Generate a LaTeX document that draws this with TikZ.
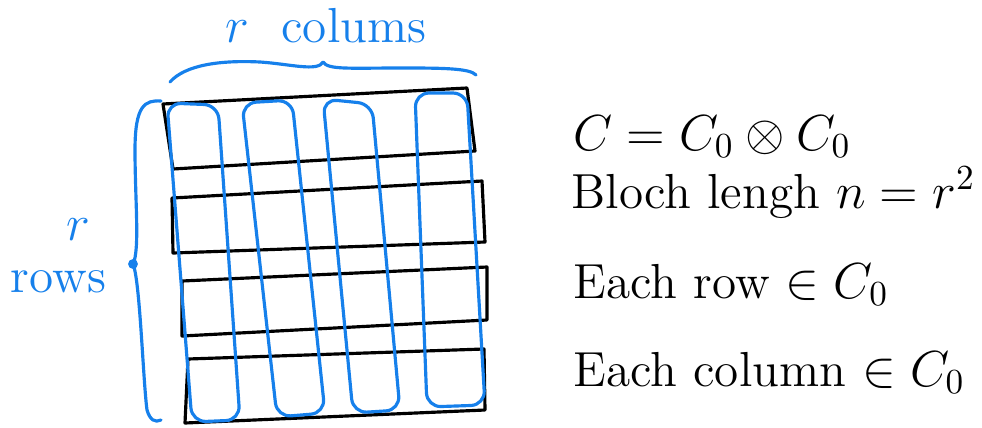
\documentclass[tikz,border=0pt]{standalone}
\usepackage{amsmath,amssymb}
\definecolor{penblue}{RGB}{22,128,235}

\begin{document}
\begin{tikzpicture}[x=0.01cm,y=-0.01cm,line join=round,line cap=round,
  rowbox/.style={draw=black,line width=0.9pt},
  colbox/.style={draw=penblue,line width=0.9pt,rounded corners=4pt},
  pen/.style={font=\fontsize{14}{17}\selectfont,inner sep=0pt,anchor=base west}]
  \useasboundingbox (0,0) rectangle (982,427);
  % rows of the grid
  \foreach \ax/\ay/\bx/\by/\cx/\cy/\dx/\dy in
    {163/104/467/88/475/151/173/169, 172/198/482/181/485/242/173/253,
     182/281/487/267/487/320/182/336, 188/359/484/349/485/410/185/423}
    \draw[rowbox] (\ax,\ay)--(\bx,\by)--(\cx,\cy)--(\dx,\dy)--cycle;
  % columns of the grid
  \foreach \ax/\ay/\bx/\by/\cx/\cy/\dx/\dy in
    {167/103/218/105/240/420/192/422, 242/103/292/100/325/413/277/417,
     323/99/372/104/400/410/353/413, 415/93/467/93/485/405/427/407}
    \draw[colbox] (\ax,\ay)--(\bx,\by)--(\cx,\cy)--(\dx,\dy)--cycle;
  % braces
  \draw[penblue,line width=0.9pt] (170,82) .. controls (185,65) and (220,60) .. (260,62)
    .. controls (290,64) and (318,72) .. (323,62) .. controls (328,70) and (350,68) .. (400,68)
    .. controls (440,68) and (470,68) .. (476,75);
  \draw[penblue,line width=0.9pt] (161,101) .. controls (145,100) and (135,105) .. (135,150)
    .. controls (135,200) and (140,250) .. (133,264) .. controls (140,280) and (143,380) .. (147,410)
    .. controls (150,420) and (155,423) .. (161,420);
  \fill[penblue] (133,264) circle (1.4pt);
  % labels
  \node[pen,penblue] (topLab) at (225,42) {$r$\ \ colums};
  \node[pen,penblue] (rLab) at (66,240) {$r$};
  \node[pen,penblue] (rowsLab) at (10,292) {rows};
  % right hand notes
  \node[pen] (eqC) at (573,150) {$C = C_0 \otimes C_0$};
  \node[pen] (blockLen) at (571,208) {Bloch lengh $n = r^2$};
  \node[pen] (rowEq) at (573,298) {Each row $\in C_0$};
  \node[pen] (colEq) at (573,386) {Each column $\in C_0$};
\end{tikzpicture}
\end{document}
